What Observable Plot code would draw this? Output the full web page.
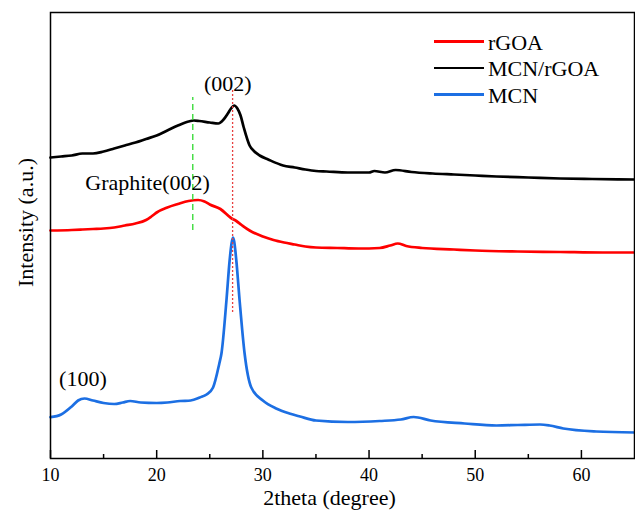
<!DOCTYPE html>
<html><head><meta charset="utf-8">
<script src="https://cdn.jsdelivr.net/npm/d3@7"></script>
<script src="https://cdn.jsdelivr.net/npm/@observablehq/plot@0.6"></script>
<style>
body{margin:0;background:#fff;}
#chart{position:relative;width:635px;height:511px;font-family:"Liberation Serif",serif;}
.leg-sw{position:absolute;}
.leg-tx{position:absolute;font-size:22px;line-height:22px;color:#000;white-space:nowrap;font-family:"Liberation Serif",serif;}
</style></head><body><div id="chart"></div>
<script>
// Series
const seriesNames = ["rGOA", "MCN/rGOA", "MCN"];
const seriesColors = ["#ff0000", "#000000", "#1c6fe3"];

// MCN/rGOA (black)
const mcnRgoaTheta = [10,11,12,13,14,15,16,17,18,19,20,21,22,23,23.5,24,25,25.8,26.3,26.7,27,27.3,27.6,27.9,28.2,28.75,29.2,29.7,30.5,31.9,33,34,35,36,38,40,40.5,41.5,42.5,44,46,48,50,52,55,58,61,65];
const mcnRgoaI     = [301,302,303,305,305,307,310,313,316,319.5,323,328,333,337,338,337.5,336,335,339,345,350,353,350,343,331,313,307,303,299,293,291,289,287.5,287,286,286,287.5,286,288.5,286.5,285,284,283,282,281,280,279.5,279];

// rGOA (red)
const rgoaTheta = [10,12,13,14,15,16,17,18,19,19.5,20,21,22,23,23.9,24.5,25,26,27,27.5,28,28.75,30,31,32,33,34,35,37,39,41,42,42.7,43.5,45,48,50,54,58,62,65];
const rgoaI     = [228,228.5,229,229.5,230,231,233,235,238.5,242,246,251,254.5,257.5,258.5,257,254,249.5,240.5,237.5,233.5,228,222,218.5,216,214,212,211,210.5,210,210.5,213,215,212.5,210.5,209,208,207,206.5,206,206];

// MCN (blue)
const mcnTheta = [10,11,12,12.6,13.2,14,15,16,16.8,17.5,18.5,20,21,22.2,23.2,24.06,24.7,25.31,25.9,26.1,26.57,26.87,27.05,27.18,27.3,27.5,27.81,28.28,28.91,30,31.25,32.5,33.5,35,38,41,43,44.2,45.8,49,52,54,56.1,57,58.3,61.4,65];
const mcnI     = [41.3,44,52,58,60,58,55.5,54.5,56,57.5,56,55.5,56,57.5,58,61,64,71,95,105,158,198,215,221,217,198,158,105,71,58,50,45,42,38,36.5,37.5,39,41.5,38,35,33,33.5,34,33,30,27,26];

// Reference lines
const refX  = [23.4, 27.15];
const refY1 = [228, 146];
const refY2 = [361, 369];
const refColors = ["#2fd82f", "#e84040"];
const refDash = ["6,4", "2,2"];

// Peak annotations
const annoLabels = ["(002)", "Graphite(002)", "(100)"];
const annoX = [26.7, 19.14, 13.05];
const annoY = [375, 275.5, 79.5];

// Axis
const majorTicks = [10, 20, 30, 40, 50, 60];
const minorTicks = [15, 25, 35, 45, 55];
const xTitle = "2theta (degree)";
const yTitle = "Intensity (a.u.)";

const serif = "Liberation Serif";
const toRows = (name, th, I) => th.map((t, i) => ({series: name, theta: t, I: I[i]}));
const rows = [
  ...toRows("MCN/rGOA", mcnRgoaTheta, mcnRgoaI),
  ...toRows("rGOA", rgoaTheta, rgoaI),
  ...toRows("MCN", mcnTheta, mcnI)
];
const refs = refX.map((x, i) => ({x, y1: refY1[i], y2: refY2[i], c: refColors[i], d: refDash[i]}));
const annos = annoLabels.map((t, i) => ({t, x: annoX[i], y: annoY[i]}));

const chart = Plot.plot({
  width: 635, height: 511,
  marginLeft: 50, marginRight: 1, marginTop: 12, marginBottom: 53,
  x: {domain: [10, 65]},
  y: {domain: [0, 446], axis: null},
  color: {domain: seriesNames, range: seriesColors},
  style: {fontFamily: serif, fontSize: "18px", background: "white", color: "black"},
  marks: [
    Plot.line(rows, {x: "theta", y: "I", z: "series", stroke: "series", strokeWidth: 2.7, curve: "monotone-x"}),
    ...refs.map(r => Plot.ruleX([r], {x: "x", y1: "y1", y2: "y2", stroke: r.c, strokeWidth: 1.3, strokeDasharray: r.d})),
    Plot.text(annos, {x: "x", y: "y", text: "t", fontSize: 22, fontFamily: serif, textAnchor: "middle", lineAnchor: "middle"}),
    Plot.frame({stroke: "#000", strokeWidth: 1.5}),
    Plot.ruleX(majorTicks, {x: d => d, insetTop: 438, stroke: "#000", strokeWidth: 1.5}),
    Plot.ruleX(minorTicks, {x: d => d, insetTop: 442, stroke: "#000", strokeWidth: 1.5}),
    Plot.axisX({ticks: majorTicks, tickSize: 0, tickPadding: 10, label: null, fontSize: 18, fontFamily: serif}),
    Plot.text([xTitle], {frameAnchor: "bottom", dy: 31, dx: -13, lineAnchor: "top", textAnchor: "middle", fontSize: 22, fontFamily: serif}),
    Plot.text([yTitle], {frameAnchor: "left", rotate: -90, dx: -25, dy: -13, lineAnchor: "middle", textAnchor: "middle", fontSize: 22, fontFamily: serif})
  ]
});
const root = document.getElementById("chart");
root.appendChild(chart);

// Legend (inside plot area, top-right)
const legendWidths = [3, 2, 2.4];
seriesNames.forEach((name, i) => {
  const sw = document.createElement("div");
  sw.className = "leg-sw";
  const lw = legendWidths[i];
  sw.style.left = "434px";
  sw.style.width = "50px";
  sw.style.top = (41 + i * 26.8 - lw / 2) + "px";
  sw.style.height = lw + "px";
  sw.style.background = seriesColors[i];
  root.appendChild(sw);
  const tx = document.createElement("div");
  tx.className = "leg-tx";
  tx.style.left = "488px";
  tx.style.top = (31.6 + i * 26.7) + "px";
  tx.textContent = name;
  root.appendChild(tx);
});
</script>
</body></html>
